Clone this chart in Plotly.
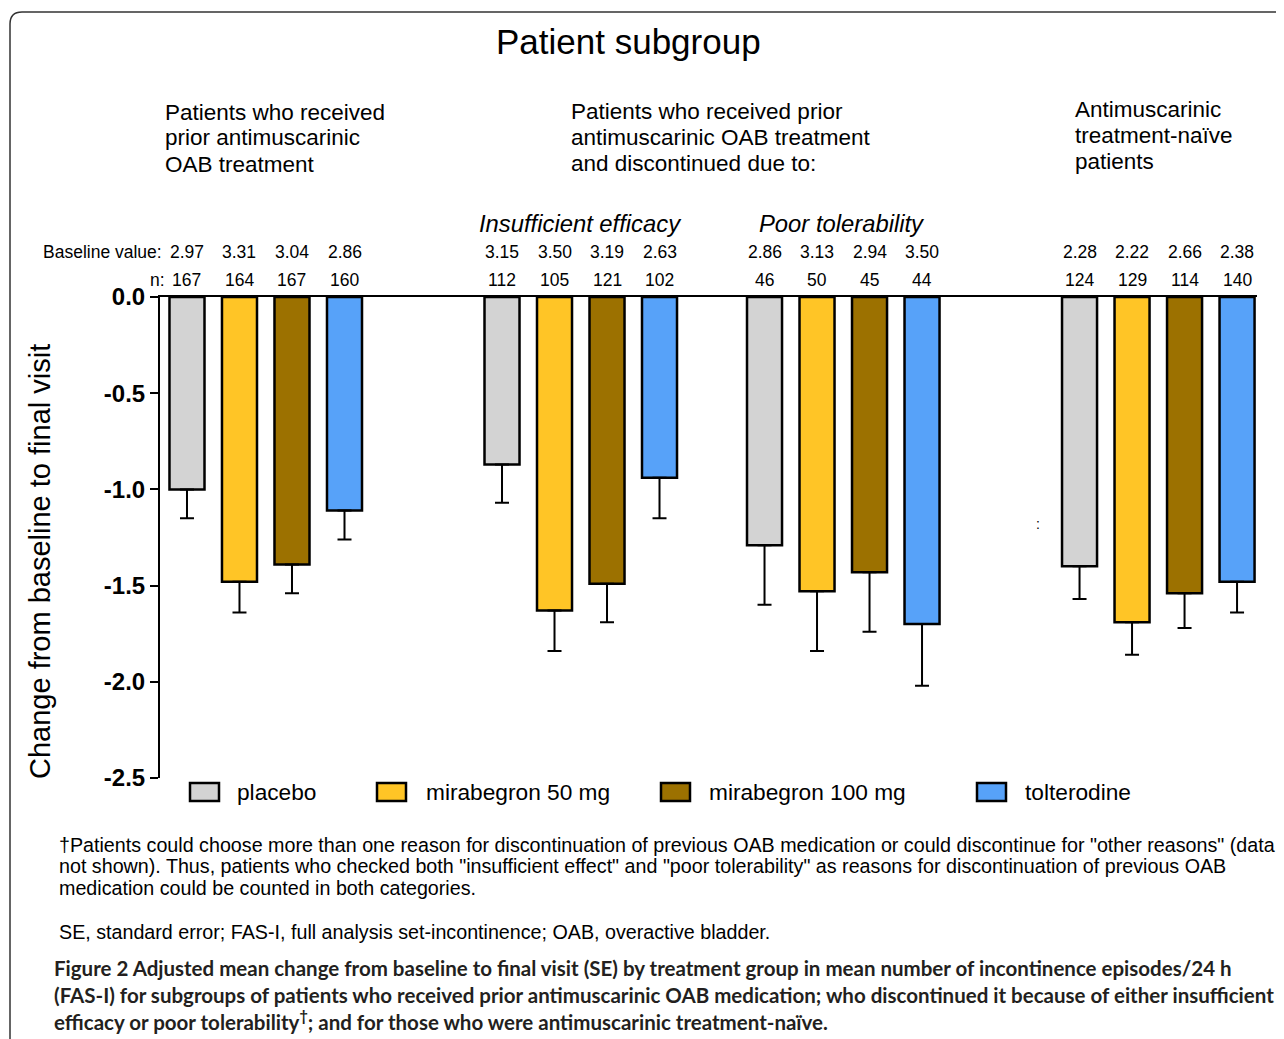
import plotly.graph_objects as go

# ---------------- data ----------------
series_names = ["placebo", "mirabegron 50 mg", "mirabegron 100 mg", "tolterodine"]
series_colors = ["#D3D3D3", "#FFC526", "#9C7100", "#57A2F9"]
subgroups = ["Prior antimuscarinic", "Insufficient efficacy", "Poor tolerability", "Treatment-naïve"]

placebo_change = [-1.00, -0.87, -1.29, -1.40]
mira50_change = [-1.48, -1.63, -1.53, -1.69]
mira100_change = [-1.39, -1.49, -1.43, -1.54]
tolt_change = [-1.11, -0.94, -1.70, -1.48]

placebo_se = [0.15, 0.20, 0.31, 0.17]
mira50_se = [0.16, 0.21, 0.31, 0.17]
mira100_se = [0.15, 0.20, 0.31, 0.18]
tolt_se = [0.15, 0.21, 0.32, 0.16]

placebo_baseline = ["2.97", "3.15", "2.86", "2.28"]
mira50_baseline = ["3.31", "3.50", "3.13", "2.22"]
mira100_baseline = ["3.04", "3.19", "2.94", "2.66"]
tolt_baseline = ["2.86", "2.63", "3.50", "2.38"]

placebo_n = [167, 112, 46, 124]
mira50_n = [164, 105, 50, 129]
mira100_n = [167, 121, 45, 114]
tolt_n = [160, 102, 44, 140]

y_tick_vals = [0.0, -0.5, -1.0, -1.5, -2.0, -2.5]
y_tick_text = ["0.0", "-0.5", "-1.0", "-1.5", "-2.0", "-2.5"]

changes = [placebo_change, mira50_change, mira100_change, tolt_change]
ses = [placebo_se, mira50_se, mira100_se, tolt_se]
baselines = [placebo_baseline, mira50_baseline, mira100_baseline, tolt_baseline]
ns = [placebo_n, mira50_n, mira100_n, tolt_n]

# ---------------- layout helpers ----------------
OFF = 8                      # page body margin
W, H = 1284 - OFF, 1039 - OFF
L, R, T, B = 160 - OFF, 1257 - OFF, 297 - OFF, 778 - OFF
group_start = [0, 6, 11, 17]   # slot offsets of the four subgroup clusters


def px(x):
    return (x - OFF - L) / (R - L)


def py(y):
    return (B - (y - OFF)) / (B - T)


FONT = "Liberation Sans"
CAP_FONT = "Lato"

fig = go.Figure()
for s, name in enumerate(series_names):
    xs = [g + s for g in group_start]
    fig.add_trace(go.Bar(
        x=xs, y=changes[s], name=name, width=0.667,
        marker=dict(color=series_colors[s], line=dict(color="black", width=2.5)),
        error_y=dict(type="data", symmetric=False, array=[0] * len(xs),
                     arrayminus=ses[s], color="black", thickness=2, width=7),
        showlegend=False,
    ))

ann = []


def text(t, x, y, size, xanchor="left", family=FONT, color="black", **kw):
    ann.append(dict(text=t, x=px(x), y=py(y), xref="paper", yref="paper", showarrow=False,
                    xanchor=xanchor, yanchor="middle", align="left",
                    font=dict(size=size, family=family, color=color), **kw))


# title
text("Patient subgroup", 628, 42, 35, xanchor="center")
# subgroup headings (one annotation per line for tight leading)
heads = [
    (163, [112, 138, 164], ["Patients who received", "prior antimuscarinic", "OAB treatment"]),
    (569, [111, 137, 163], ["Patients who received prior", "antimuscarinic OAB treatment", "and discontinued due to:"]),
    (1073, [109, 135, 161], ["Antimuscarinic", "treatment-naïve", "patients"]),
]
for x, ys, lines in heads:
    for y, t in zip(ys, lines):
        text(t, x, y, 22.5)
for x, t in [(580, "Insufficient efficacy"), (842, "Poor tolerability")]:
    text("<i>" + t + "</i>", x, 223, 23.8, xanchor="center")
# baseline / n rows
text("Baseline value:", 164, 252, 17.5, xanchor="right")
text("n:", 167, 280, 17.5, xanchor="right")
for s in range(4):
    for g in range(4):
        xv = group_start[g] + s
        for val, yy in [(baselines[s][g], 252), (str(ns[s][g]), 280)]:
            ann.append(dict(text=val, x=xv, y=py(yy), xref="x", yref="paper",
                            showarrow=False, xanchor="center", yanchor="middle",
                            font=dict(size=17.5, family=FONT, color="black")))
# y title
ann.append(dict(text="Change from baseline to final visit", x=px(40), y=py(562),
                xref="paper", yref="paper", showarrow=False, textangle=-90,
                xanchor="center", yanchor="middle",
                font=dict(size=29, family=FONT, color="black")))
# stray mark
text(":", 1038, 524, 14, xanchor="center")

shapes = []
# manual legend
leg_box_x = [190, 377, 661, 977]
leg_text_x = [235, 424, 707, 1023]
for s, name in enumerate(series_names):
    shapes.append(dict(type="rect", xref="paper", yref="paper",
                       x0=px(leg_box_x[s]), x1=px(leg_box_x[s] + 29),
                       y0=py(801), y1=py(783), fillcolor=series_colors[s],
                       line=dict(color="black", width=2.5)))
    text(name, leg_text_x[s], 792, 22.7)

# footnotes
foot = [
    '†Patients could choose more than one reason for discontinuation of previous OAB medication or could discontinue for "other reasons" (data',
    'not shown). Thus, patients who checked both "insufficient effect" and "poor tolerability" as reasons for discontinuation of previous OAB',
    'medication could be counted in both categories.',
]
for y, t in zip([845, 866, 888], foot):
    text(t, 57, y, 19.7)
text("SE, standard error; FAS-I, full analysis set-incontinence; OAB, overactive bladder.", 57, 932, 19.7)

caption = [
    "Figure 2 Adjusted mean change from baseline to final visit (SE) by treatment group in mean number of incontinence episodes/24 h",
    "(FAS-I) for subgroups of patients who received prior antimuscarinic OAB medication; who discontinued it because of either insufficient",
    "efficacy or poor tolerability<sup>†</sup>; and for those who were antimuscarinic treatment-naïve.",
]
for y, t in zip([968, 995, 1021], caption):
    text("<b>" + t + "</b>", 52, y, 20.5, family=CAP_FONT, color="#231F20")

# frame border
shapes.append(dict(type="path", xref="paper", yref="paper",
                   path=f"M {px(10)} {py(1060)} L {px(10)} {py(24)} Q {px(10)} {py(12)} {px(22)} {py(12)} L {px(1310)} {py(12)}",
                   line=dict(color="#333333", width=1.5)))

fig.update_layout(
    width=W, height=H,
    margin=dict(l=L, r=W - R, t=T, b=H - B, pad=0),
    paper_bgcolor="white", plot_bgcolor="white",
    barmode="overlay",
    xaxis=dict(range=[-0.514, 20.38], side="top", showline=True, linecolor="black", linewidth=2,
               showticklabels=False, ticks="", showgrid=False, zeroline=False, fixedrange=True),
    yaxis=dict(range=[-2.5, 0], showline=True, linecolor="black", linewidth=2,
               tickvals=y_tick_vals, ticktext=y_tick_text, ticks="outside", ticklen=8,
               tickwidth=2, tickcolor="black", showgrid=False, zeroline=False,
               tickfont=dict(size=24, family=FONT, color="black", weight="bold")),
    annotations=ann, shapes=shapes,
    font=dict(family=FONT),
)

fig.write_html("out.html")
